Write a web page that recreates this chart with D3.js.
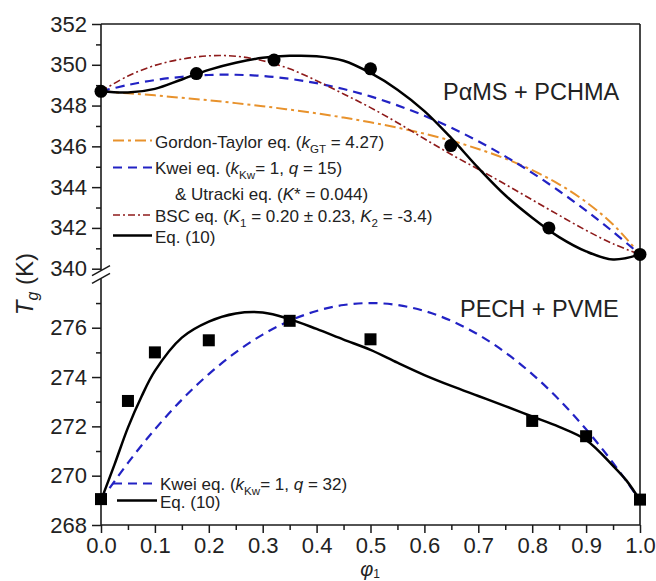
<!DOCTYPE html>
<html>
<head>
<meta charset="utf-8">
<script src="https://cdn.jsdelivr.net/npm/d3@7"></script>
<style>
  html, body { margin: 0; padding: 0; background: #fff; }
  svg { display: block; font-family: "Liberation Sans", Arial, sans-serif; }
</style>
</head>
<body>
<svg id="chart" width="656" height="581"></svg>
<script>
// ---------- data ----------
const phiGrid = [0, 0.05, 0.1, 0.15, 0.2, 0.25, 0.3, 0.35, 0.4, 0.45, 0.5, 0.55, 0.6, 0.65, 0.7, 0.75, 0.8, 0.85, 0.9, 0.95, 1.0];

// Top panel: PaMS + PCHMA
const gordonTaylor = [348.70, 348.60, 348.50, 348.38, 348.26, 348.12, 347.97, 347.80, 347.62, 347.41, 347.18, 346.92, 346.62, 346.28, 345.87, 345.40, 344.83, 344.14, 343.27, 342.17, 340.70];
const kweiTop      = [348.70, 349.01, 349.25, 349.41, 349.50, 349.51, 349.45, 349.31, 349.10, 348.81, 348.45, 348.01, 347.50, 346.91, 346.25, 345.51, 344.70, 343.81, 342.85, 341.81, 340.70];
const bscTop       = [348.70, 349.45, 349.97, 350.28, 350.44, 350.42, 350.20, 349.80, 349.22, 348.57, 347.90, 347.16, 346.37, 345.60, 344.88, 344.14, 343.38, 342.62, 341.88, 341.22, 340.70];
const eq10Top      = [348.70, 348.64, 348.82, 349.28, 349.75, 350.10, 350.34, 350.44, 350.42, 350.20, 349.60, 348.78, 347.73, 346.40, 344.94, 343.60, 342.50, 341.55, 340.85, 340.45, 340.70];
const circlePhi = [0, 0.177, 0.321, 0.5, 0.649, 0.831, 1.0];
const circleTg  = [348.70, 349.57, 350.23, 349.80, 346.04, 342.00, 340.70];

// Bottom panel: PECH + PVME
const kweiBottom = [269.00, 270.52, 271.88, 273.08, 274.12, 275.00, 275.72, 276.28, 276.68, 276.92, 277.00, 276.92, 276.68, 276.28, 275.72, 275.00, 274.12, 273.08, 271.88, 270.52, 269.00];
const eq10BottomPhi = [0, 0.025, 0.05, 0.075, 0.1, 0.15, 0.2, 0.25, 0.3, 0.35, 0.4, 0.45, 0.5, 0.55, 0.6, 0.65, 0.7, 0.75, 0.8, 0.85, 0.9, 0.95, 0.975, 1.0];
const eq10Bottom    = [269.00, 270.45, 271.95, 273.20, 274.25, 275.60, 276.25, 276.58, 276.62, 276.35, 275.95, 275.52, 275.10, 274.58, 274.08, 273.64, 273.23, 272.82, 272.40, 271.98, 271.45, 270.40, 269.80, 269.00];
const squarePhi = [0, 0.05, 0.1, 0.2, 0.35, 0.5, 0.8, 0.9, 1.0];
const squareTg  = [269.05, 273.03, 275.00, 275.49, 276.28, 275.53, 272.22, 271.60, 269.03];

// ticks
const xMajor = [0, 0.1, 0.2, 0.3, 0.4, 0.5, 0.6, 0.7, 0.8, 0.9, 1.0];
const xMinor = [0.05, 0.15, 0.25, 0.35, 0.45, 0.55, 0.65, 0.75, 0.85, 0.95];
const yTopMajor = [340, 342, 344, 346, 348, 350, 352];
const yTopMinor = [341, 343, 345, 347, 349, 351];
const yBotMajor = [268, 270, 272, 274, 276];
const yBotMinor = [269, 271, 273, 275, 277];

// ---------- layout ----------
const svg = d3.select("#chart");
const X0 = 101, X1 = 640, YT = 24, YB = 525;
const x = d3.scaleLinear().domain([0, 1]).range([X0, X1]);
const yTop = d3.scaleLinear().domain([340, 352]).range([268.7, YT]);
const yBot = d3.scaleLinear().domain([268, 278]).range([YB, 278.4]);
const ink = "#1a1a1a";
const cBlue = "#2222c4", cOrange = "#e8922c", cRed = "#8e1b1b";

// frame (top and right)
svg.append("line").attr("x1", X0).attr("x2", X1).attr("y1", YT).attr("y2", YT).attr("stroke", ink).attr("stroke-width", 1.6);
svg.append("line").attr("x1", X1).attr("x2", X1).attr("y1", YT).attr("y2", YB).attr("stroke", ink).attr("stroke-width", 1.6);

function styleAxis(g) {
  g.select(".domain").remove();
  g.selectAll(".tick line").attr("stroke", ink).attr("stroke-width", 1.5);
  g.selectAll(".tick text").attr("fill", "#222").style("font-size", "22px").style("font-family", "'Liberation Sans', Arial, sans-serif");
}

// x axis
svg.append("g").attr("transform", `translate(0,${YB})`)
  .call(d3.axisBottom(x).tickValues(xMajor).tickFormat(d3.format(".1f")).tickSize(8).tickPadding(4))
  .call(styleAxis);
svg.append("g").attr("transform", `translate(0,${YB})`)
  .call(d3.axisBottom(x).tickValues(xMinor).tickFormat("").tickSize(5))
  .call(styleAxis);
svg.append("line").attr("x1", X0).attr("x2", X1).attr("y1", YB).attr("y2", YB).attr("stroke", ink).attr("stroke-width", 1.6);

// y axes
svg.append("g").attr("transform", `translate(${X0},0)`)
  .call(d3.axisLeft(yTop).tickValues(yTopMajor).tickFormat(d3.format("d")).tickSize(9).tickPadding(5))
  .call(styleAxis);
svg.append("g").attr("transform", `translate(${X0},0)`)
  .call(d3.axisLeft(yTop).tickValues(yTopMinor).tickFormat("").tickSize(5))
  .call(styleAxis);
svg.append("g").attr("transform", `translate(${X0},0)`)
  .call(d3.axisLeft(yBot).tickValues(yBotMajor).tickFormat(d3.format("d")).tickSize(9).tickPadding(5))
  .call(styleAxis);
svg.append("g").attr("transform", `translate(${X0},0)`)
  .call(d3.axisLeft(yBot).tickValues(yBotMinor).tickFormat("").tickSize(5))
  .call(styleAxis);

// left axis with break
const brkA = 270.6, brkB = 278.4;
svg.append("line").attr("x1", X0).attr("x2", X0).attr("y1", YT).attr("y2", brkA).attr("stroke", ink).attr("stroke-width", 1.6);
svg.append("line").attr("x1", X0).attr("x2", X0).attr("y1", brkB).attr("y2", YB).attr("stroke", ink).attr("stroke-width", 1.6);
[brkA, brkB].forEach(yc => {
  svg.append("line").attr("x1", X0 - 9).attr("x2", X0 + 9).attr("y1", yc + 5).attr("y2", yc - 5)
    .attr("stroke", ink).attr("stroke-width", 1.5);
});

// ---------- curves ----------
const lineTop = d3.line().x(d => x(d[0])).y(d => yTop(d[1])).curve(d3.curveCatmullRom.alpha(0.5));
const lineBot = d3.line().x(d => x(d[0])).y(d => yBot(d[1])).curve(d3.curveCatmullRom.alpha(0.5));
const zip = (a, b) => a.map((v, i) => [v, b[i]]);

svg.append("path").attr("d", lineTop(zip(phiGrid, gordonTaylor))).attr("fill", "none")
  .attr("stroke", cOrange).attr("stroke-width", 2).attr("stroke-dasharray", "11,4,3,4");
svg.append("path").attr("d", lineTop(zip(phiGrid, kweiTop))).attr("fill", "none")
  .attr("stroke", cBlue).attr("stroke-width", 2.2).attr("stroke-dasharray", "9,6");
svg.append("path").attr("d", lineTop(zip(phiGrid, bscTop))).attr("fill", "none")
  .attr("stroke", cRed).attr("stroke-width", 1.6).attr("stroke-dasharray", "7,3,2,3");
svg.append("path").attr("d", lineTop(zip(phiGrid, eq10Top))).attr("fill", "none")
  .attr("stroke", "#000").attr("stroke-width", 2.5);

svg.append("path").attr("d", lineBot(zip(phiGrid, kweiBottom))).attr("fill", "none")
  .attr("stroke", cBlue).attr("stroke-width", 2.2).attr("stroke-dasharray", "9,6");
svg.append("path").attr("d", lineBot(zip(eq10BottomPhi, eq10Bottom))).attr("fill", "none")
  .attr("stroke", "#000").attr("stroke-width", 2.5);

// markers
svg.append("g").selectAll("circle").data(zip(circlePhi, circleTg)).join("circle")
  .attr("cx", d => x(d[0])).attr("cy", d => yTop(d[1])).attr("r", 6.5).attr("fill", "#000");
const sq = 12;
svg.append("g").selectAll("rect").data(zip(squarePhi, squareTg)).join("rect")
  .attr("x", d => x(d[0]) - sq / 2).attr("y", d => yBot(d[1]) - sq / 2)
  .attr("width", sq).attr("height", sq).attr("fill", "#000");

// ---------- legends ----------
function legendText(xp, yp, parts, size) {
  const t = svg.append("text").attr("x", xp).attr("y", yp).attr("fill", "#222").style("font-size", size + "px");
  let shift = 0;
  parts.forEach(p => {
    const s = t.append("tspan").text(p.t);
    if (p.i) s.style("font-style", "italic");
    if (p.sub) {
      s.style("font-size", (size * 0.68) + "px").attr("dy", 5 - shift);
      shift = 5;
    } else if (shift) {
      s.attr("dy", -shift);
      shift = 0;
    }
  });
  return t;
}
function legendLine(x1, x2, yp, color, width, dash) {
  const l = svg.append("line").attr("x1", x1).attr("x2", x2).attr("y1", yp).attr("y2", yp)
    .attr("stroke", color).attr("stroke-width", width);
  if (dash) l.attr("stroke-dasharray", dash);
}
const LS = 17;
legendLine(113, 152, 140.5, cOrange, 2, "11,4,3,4");
legendText(155, 148, [{t: "Gordon-Taylor eq. ("}, {t: "k", i: true}, {t: "GT", sub: true}, {t: " = 4.27)"}], LS);
legendLine(113, 152, 167.5, cBlue, 2.2, "9,6");
legendText(155, 174, [{t: "Kwei eq. ("}, {t: "k", i: true}, {t: "Kw", sub: true}, {t: "= 1, "}, {t: "q", i: true}, {t: " = 15)"}], LS);
legendText(175, 200, [{t: "& Utracki eq. ("}, {t: "K", i: true}, {t: "* = 0.044)"}], LS);
legendLine(113, 152, 215, cRed, 1.6, "7,3,2,3");
legendText(155, 222, [{t: "BSC eq. ("}, {t: "K", i: true}, {t: "1", sub: true}, {t: " = 0.20 ± 0.23, "}, {t: "K", i: true}, {t: "2", sub: true}, {t: " = -3.4)"}], LS);
legendLine(113, 152, 235.5, "#000", 2.5, null);
legendText(155, 243, [{t: "Eq. (10)"}], LS);

legendLine(113, 155, 483.5, cBlue, 2.2, "9,6");
legendText(160, 490, [{t: "Kwei eq. ("}, {t: "k", i: true}, {t: "Kw", sub: true}, {t: "= 1, "}, {t: "q", i: true}, {t: " = 32)"}], LS);
legendLine(117, 157, 500.5, "#000", 2.5, null);
legendText(160, 508, [{t: "Eq. (10)"}], LS);

// panel titles
svg.append("text").attr("x", 443).attr("y", 100).attr("fill", "#222").style("font-size", "23.5px").text("PαMS + PCHMA");
svg.append("text").attr("x", 460).attr("y", 317).attr("fill", "#222").style("font-size", "23.5px").text("PECH + PVME");

// axis titles
const yl = svg.append("text").attr("transform", "translate(33,284) rotate(-90)").attr("text-anchor", "middle")
  .attr("fill", "#222").style("font-size", "24px");
yl.append("tspan").text("T").style("font-style", "italic");
yl.append("tspan").text("g").style("font-style", "italic").style("font-size", "16px").attr("dy", 5);
yl.append("tspan").text(" (K)").attr("dy", -5);

const xl = svg.append("text").attr("x", 370).attr("y", 576).attr("text-anchor", "middle")
  .attr("fill", "#222").style("font-size", "20px");
xl.append("tspan").text("φ").style("font-style", "italic");
xl.append("tspan").text("1").style("font-size", "12px").attr("dy", 2);
</script>
</body>
</html>
